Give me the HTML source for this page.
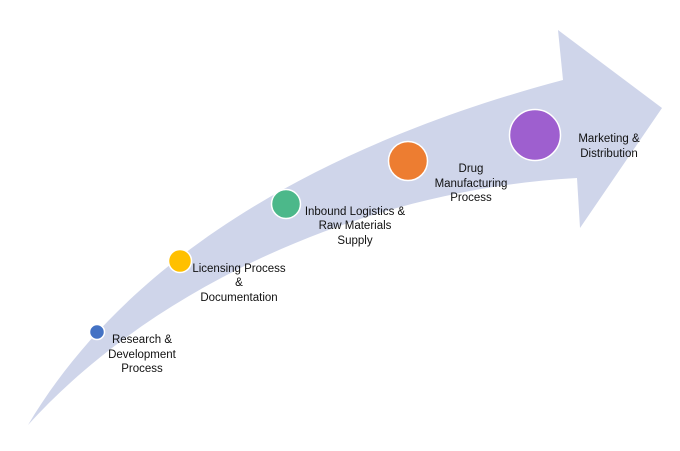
<!DOCTYPE html>
<html><head><style>
body{margin:0;background:#fff;}
svg text{font-family:"Liberation Sans",sans-serif;font-size:11.5px;fill:#111;}
</style></head><body>
<svg width="680" height="446" viewBox="0 0 680 446">
<path d="M28,425 C120,270 300,150 563,80 L558,30 L662,108 L580,228 L577,178 C360,190 150,290 28,425 Z" fill="#cfd5ea"/>
<g stroke="#fff" stroke-width="1.5">
<circle cx="97" cy="332" r="7.5" fill="#4472c4"/>
<circle cx="180" cy="261" r="11.5" fill="#ffc000"/>
<circle cx="286" cy="204" r="14.5" fill="#4cb88a"/>
<circle cx="408" cy="161" r="19.5" fill="#ed7d31"/>
<circle cx="535" cy="135" r="25.5" fill="#9e5fcf"/>
</g>
<g text-anchor="middle">
<text x="142" y="343">Research &amp;</text>
<text x="142" y="358">Development</text>
<text x="142" y="372">Process</text>
<text x="239" y="272">Licensing Process</text>
<text x="239" y="286">&amp;</text>
<text x="239" y="301">Documentation</text>
<text x="355" y="215">Inbound Logistics &amp;</text>
<text x="355" y="229">Raw Materials</text>
<text x="355" y="244">Supply</text>
<text x="471" y="172">Drug</text>
<text x="471" y="187">Manufacturing</text>
<text x="471" y="201">Process</text>
<text x="609" y="142">Marketing &amp;</text>
<text x="609" y="157">Distribution</text>
</g>
</svg>
</body></html>
